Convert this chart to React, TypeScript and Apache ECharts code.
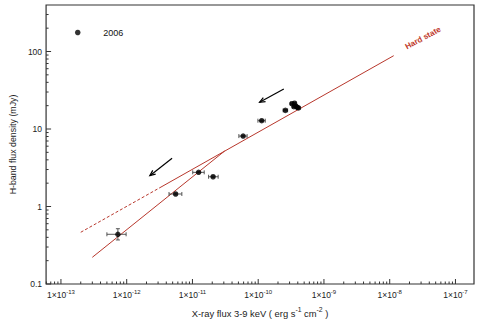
import React, { useEffect, useRef } from "react";
import * as echarts from "echarts";

// ---- data (real units) ----
const xFlux = [7.35e-13, 5.55e-12, 1.24e-11, 2.06e-11, 5.9e-11, 1.13e-10, 2.59e-10, 3.25e-10, 3.57e-10, 3.73e-10, 3.93e-10, 3.49e-10, 4.1e-10];
const hFlux = [0.438, 1.45, 2.76, 2.42, 8.1, 12.8, 17.4, 21.2, 21.5, 19.8, 19.05, 19.4, 18.7];
const xLo = [5.0e-13, 4.4e-12, 1.01e-11, 1.76e-11, 5.08e-11, 9.9e-11, 2.4e-10, 3.1e-10, 3.4e-10, 3.57e-10, 3.77e-10, 3.33e-10, 3.92e-10];
const xHi = [9.8e-13, 6.9e-12, 1.51e-11, 2.46e-11, 6.78e-11, 1.28e-10, 2.8e-10, 3.4e-10, 3.74e-10, 3.9e-10, 4.1e-10, 3.65e-10, 4.3e-10];
const hLo = [0.37, 1.41, 2.7, 2.36, 7.9, 12.5, 17.0, 20.7, 21.0, 19.4, 18.6, 19.0, 18.3];
const hHi = [0.517, 1.49, 2.82, 2.48, 8.3, 13.1, 17.8, 21.7, 22.0, 20.2, 19.5, 19.8, 19.1];

// hard state correlation (dashed extrapolation + solid fit)
const hardDashX = [2.0e-13, 3.2e-12];
const hardDashY = [0.465, 1.75];
const hardSolidX = [3.2e-12, 1.15e-8];
const hardSolidY = [1.75, 88.3];
// steeper decay track
const steepX = [3.0e-13, 3.09e-11];
const steepY = [0.221, 5.2];

// arrows: from -> to
const arrowFromX = [4.9e-12, 2.45e-10];
const arrowFromY = [4.2, 32.8];
const arrowToX = [2.25e-12, 1.05e-10];
const arrowToY = [2.5, 22.1];

// axes
const xTickExps = [-13, -12, -11, -10, -9, -8, -7];
const yTickVals = [0.1, 1, 10, 100];
const yTickLabels = ["0.1", "1", "10", "100"];
const xMinLog = -13.226;
const xMaxLog = -6.718;
const yMinLog = -1;
const yMaxLog = 2.6;

const L = Math.log10;
const FONT = "Liberation Sans, Arial, Helvetica, sans-serif";
const RED = "#b8372c";

export default function App() {
  const ref = useRef<HTMLDivElement>(null);
  useEffect(() => {
    if (!ref.current) return;
    const chart = echarts.init(ref.current, null, { renderer: "svg" });

    // tick data
    const ticks: number[][] = [];
    for (let e = -14; e <= -6; e++) {
      for (let k = 1; k <= 9; k++) {
        const v = e + L(k);
        if (v >= xMinLog && v <= xMaxLog) ticks.push([v, yMinLog, 0, k === 1 ? 1 : 0]);
      }
    }
    for (let e = -1; e <= 2; e++) {
      for (let k = 1; k <= 9; k++) {
        const v = e + L(k);
        if (v >= yMinLog && v <= yMaxLog) ticks.push([xMinLog, v, 1, k === 1 ? 1 : 0]);
      }
    }

    const pts = xFlux.map((x, i) => [L(x), L(hFlux[i])]);
    const errs = xFlux.map((x, i) => [L(x), L(hFlux[i]), L(xLo[i]), L(xHi[i]), L(hLo[i]), L(hHi[i])]);
    const arrows = arrowFromX.map((x, i) => [L(x), L(arrowFromY[i]), L(arrowToX[i]), L(arrowToY[i])]);

    const option: any = {
      animation: false,
      textStyle: { fontFamily: FONT },
      grid: {
        left: 42, right: 6, top: 5, bottom: 41,
        show: true, borderColor: "#333", borderWidth: 1.2, backgroundColor: "transparent",
      },
      legend: {
        left: 70, top: 23,
        itemWidth: 41, itemHeight: 5.5,
        icon: "circle",
        data: ["2006"],
        textStyle: { fontSize: 9, color: "#111", fontFamily: FONT },
      },
      xAxis: {
        type: "value", min: xMinLog, max: xMaxLog,
        axisLine: { show: false }, axisTick: { show: false }, splitLine: { show: false },
        axisLabel: {
          customValues: xTickExps,
          margin: 5,
          formatter: (v: number) => `{m|1×10}{s|${Math.round(v)}}`,
          rich: {
            m: { fontSize: 8.5, color: "#222", fontFamily: FONT, lineHeight: 11 },
            s: { fontSize: 6, color: "#222", fontFamily: FONT, verticalAlign: "top", lineHeight: 11 },
          },
        },
        name: "{a|X-ray flux 3-9 keV ( erg s}{s|-1}{a| cm}{s|-2}{a| )}",
        nameLocation: "middle",
        nameGap: 22,
        nameTextStyle: {
          rich: {
            a: { fontSize: 9.4, color: "#222", fontFamily: FONT, lineHeight: 14 },
            s: { fontSize: 6.8, color: "#222", fontFamily: FONT, verticalAlign: "top", lineHeight: 14 },
          },
        },
      },
      yAxis: {
        type: "value", min: yMinLog, max: yMaxLog,
        axisLine: { show: false }, axisTick: { show: false }, splitLine: { show: false },
        axisLabel: {
          customValues: yTickVals.map((v) => L(v)),
          margin: 4,
          fontSize: 8.5, color: "#222", fontFamily: FONT,
          formatter: (v: number) => {
            const i = yTickVals.findIndex((t) => Math.abs(L(t) - v) < 1e-6);
            return i >= 0 ? yTickLabels[i] : "";
          },
        },
        name: "H-band flux density (mJy)",
        nameLocation: "middle",
        nameGap: 17,
        nameTextStyle: { fontSize: 8.8, color: "#222", fontFamily: FONT },
      },
      series: [
        {
          type: "custom", name: "ticks", silent: true, clip: false, z: 1,
          data: ticks,
          renderItem: (params: any, api: any) => {
            const p = api.coord([api.value(0), api.value(1)]);
            const len = api.value(3) ? 5 : 2.5;
            const horiz = api.value(2) === 1;
            return {
              type: "line",
              shape: horiz
                ? { x1: p[0], y1: p[1], x2: p[0] + len, y2: p[1] }
                : { x1: p[0], y1: p[1], x2: p[0], y2: p[1] - len },
              style: { stroke: "#333", lineWidth: 1 },
            };
          },
        },
        {
          type: "line", name: "hardDash", silent: true, z: 2, symbol: "none",
          data: hardDashX.map((x, i) => [L(x), L(hardDashY[i])]),
          lineStyle: { color: RED, width: 1, type: [3, 2] },
        },
        {
          type: "line", name: "hardSolid", silent: true, z: 2, symbol: "none",
          data: hardSolidX.map((x, i) => [L(x), L(hardSolidY[i])]),
          lineStyle: { color: RED, width: 1 },
        },
        {
          type: "line", name: "steep", silent: true, z: 2, symbol: "none",
          data: steepX.map((x, i) => [L(x), L(steepY[i])]),
          lineStyle: { color: RED, width: 1 },
        },
        {
          type: "custom", name: "errors", silent: true, z: 3,
          data: errs,
          renderItem: (params: any, api: any) => {
            const x = api.value(0), y = api.value(1);
            const a = api.coord([api.value(2), y]);
            const b = api.coord([api.value(3), y]);
            const c = api.coord([x, api.value(4)]);
            const d = api.coord([x, api.value(5)]);
            const st = { stroke: "#444", lineWidth: 0.9 };
            const ch = 2;
            return {
              type: "group",
              children: [
                { type: "line", shape: { x1: a[0], y1: a[1], x2: b[0], y2: b[1] }, style: st },
                { type: "line", shape: { x1: a[0], y1: a[1] - ch, x2: a[0], y2: a[1] + ch }, style: st },
                { type: "line", shape: { x1: b[0], y1: b[1] - ch, x2: b[0], y2: b[1] + ch }, style: st },
                { type: "line", shape: { x1: c[0], y1: c[1], x2: d[0], y2: d[1] }, style: st },
                { type: "line", shape: { x1: c[0] - ch, y1: c[1], x2: c[0] + ch, y2: c[1] }, style: st },
                { type: "line", shape: { x1: d[0] - ch, y1: d[1], x2: d[0] + ch, y2: d[1] }, style: st },
              ],
            };
          },
        },
        {
          type: "scatter", name: "2006", z: 4,
          data: pts,
          symbol: "circle", symbolSize: 5.5,
          itemStyle: { color: "#000" },
        },
        {
          type: "custom", name: "arrows", silent: true, z: 4,
          data: arrows,
          renderItem: (params: any, api: any) => {
            const p1 = api.coord([api.value(0), api.value(1)]);
            const p2 = api.coord([api.value(2), api.value(3)]);
            const ang = Math.atan2(p2[1] - p1[1], p2[0] - p1[0]);
            const hl = 6, hw = 0.4;
            const l1 = [p2[0] - hl * Math.cos(ang - hw), p2[1] - hl * Math.sin(ang - hw)];
            const l2 = [p2[0] - hl * Math.cos(ang + hw), p2[1] - hl * Math.sin(ang + hw)];
            return {
              type: "group",
              children: [
                { type: "line", shape: { x1: p1[0], y1: p1[1], x2: p2[0], y2: p2[1] }, style: { stroke: "#000", lineWidth: 1.2 } },
                { type: "polyline", shape: { points: [l1, p2, l2] }, style: { stroke: "#000", lineWidth: 1.2, fill: "none" } },
              ],
            };
          },
        },
      ],
      graphic: [
        {
          type: "text",
          x: 423, y: 38,
          rotation: 0.49,
          style: {
            text: "Hard state",
            fill: "#c0392b",
            font: `bold 8px ${FONT}`,
            align: "center",
            verticalAlign: "middle",
          },
        },
      ],
    };
    chart.setOption(option);
    return () => chart.dispose();
  }, []);
  return (
    <div
      ref={ref}
      style={{ position: "fixed", left: 0, top: 0, width: 480, height: 325, background: "#fff" }}
    />
  );
}
